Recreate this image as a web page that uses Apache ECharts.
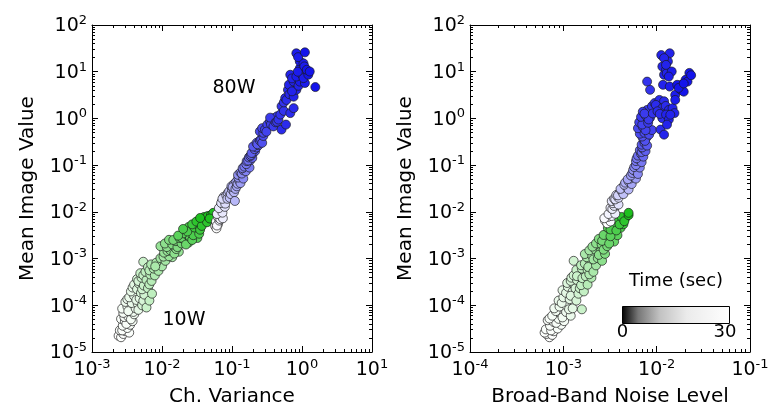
<!DOCTYPE html>
<html><head><meta charset="utf-8">
<script src="https://cdn.jsdelivr.net/npm/echarts@6/dist/echarts.min.js"></script>
<style>html,body{margin:0;padding:0;background:#fff}#c{width:772px;height:412px}</style>
</head><body><div id="c"></div>
<script>
const FONT = 'DejaVu Sans';
// axis ranges (decades)
const leftXRange = [1e-3, 1e1];
const rightXRange = [1e-4, 1e-1];
const yRange = [1e-5, 1e2];
const leftXName = 'Ch. Variance';
const rightXName = 'Broad-Band Noise Level';
const yName = 'Mean Image Value';
const timeRange = [0, 30];
// points: [x, y, time(sec)]
const left10W = [[2.4e-3,2.22e-5,0],[2.6e-3,2.07e-5,1],[2.8e-3,2.43e-5,1],[2.5e-3,2.91e-5,2],[3.0e-3,2.78e-5,2],[3.2e-3,3.26e-5,3],[2.75e-3,3.65e-5,3],[3.4e-3,2.6e-5,2],[3.5e-3,3.82e-5,4],[2.95e-3,4.57e-5,4],[2.6e-3,5.12e-5,3],[3.8e-3,4.57e-5,5],[3.3e-3,5.73e-5,5],[2.8e-3,6.86e-5,5],[4.0e-3,6.41e-5,6],[3.5e-3,8.04e-5,6],[3.2e-3,9.4e-5,6],[4.2e-3,8.6e-5,7],[3.0e-3,1.18e-4,7],[3.7e-3,1.12e-4,8],[4.5e-3,1.08e-4,9],[3.4e-3,1.48e-4,8],[4.0e-3,1.58e-4,9],[4.8e-3,1.41e-4,10],[5.2e-3,1.0e-4,12],[6.0e-3,8.97e-5,14],[3.6e-3,1.98e-4,9],[4.4e-3,2.21e-4,11],[5.0e-3,1.85e-4,12],[5.6e-3,1.69e-4,13],[4.0e-3,2.77e-4,10],[4.7e-3,2.9e-4,12],[5.5e-3,2.65e-4,14],[6.3e-3,2.32e-4,15],[4.4e-3,3.63e-4,12],[5.1e-3,3.89e-4,14],[6.0e-3,3.48e-4,16],[7.1e-3,3.32e-4,17],[4.9e-3,4.86e-4,14],[5.8e-3,5.21e-4,16],[6.8e-3,4.55e-4,17],[7.9e-3,4.36e-4,18],[5.4e-3,8.55e-4,14],[6.3e-3,6.53e-4,16],[7.6e-3,6.1e-4,18],[8.9e-3,5.45e-4,19],[1.0e-2,6.82e-4,19],[8.3e-3,8.18e-4,19],[7.2e-3,1.77e-4,16],[6.6e-3,1.26e-4,15],[9.5e-3,1.02e-3,20],[1.12e-2,8.95e-4,20],[1.4e-2,1.07e-3,20],[1.26e-2,1.12e-3,21],[1.07e-2,1.34e-3,21],[1.74e-2,1.4e-3,21],[9.5e-3,1.84e-3,21],[1.32e-2,1.5e-3,22],[1.5e-2,1.28e-3,22],[1.17e-2,1.76e-3,22],[1.4e-2,2.01e-3,23],[1.66e-2,1.76e-3,23],[1.26e-2,2.52e-3,23],[1.58e-2,2.36e-3,24],[1.9e-2,2.11e-3,24],[1.78e-2,2.76e-3,25],[2.1e-2,2.52e-3,25],[2.4e-2,2.2e-3,25],[2.24e-2,3.3e-3,26],[2.5e-2,2.89e-3,26],[3.2e-2,2.76e-3,26],[2.0e-2,3.46e-3,26],[2.6e-2,3.96e-3,27],[3.0e-2,3.46e-3,27],[2.8e-2,3.16e-3,27],[2.4e-2,4.74e-3,27],[2.9e-2,4.63e-3,28],[3.3e-2,5.19e-3,28],[3.5e-2,4.14e-3,28],[3.8e-2,6.08e-3,29],[4.2e-2,6.81e-3,29],[4.0e-2,7.78e-3,29],[4.5e-2,8.15e-3,30],[5.0e-2,8.51e-3,30],[5.4e-2,9.53e-3,30],
 [2.7e-3,2.9e-5,2],[3.1e-3,4.0e-5,4],[3.6e-3,5.0e-5,5],[2.9e-3,5.6e-5,4],[3.9e-3,7.2e-5,6],[3.3e-3,7.5e-5,6],[2.7e-3,8.5e-5,5],[4.6e-3,8.0e-5,9],[3.2e-3,1.35e-4,7],[4.3e-3,1.3e-4,9],[5.4e-3,1.25e-4,12],[3.8e-3,2.4e-4,9],[5.2e-3,2.2e-4,13],[4.6e-3,3.3e-4,12],[6.6e-3,2.8e-4,16],[5.4e-3,4.4e-4,15],[6.6e-3,5.6e-4,17],[8.0e-3,6.8e-4,19],[7.0e-3,7.5e-4,18],[1.05e-2,1.1e-3,20],[1.2e-2,1.45e-3,21],[1.6e-2,1.6e-3,22],[1.1e-2,2.1e-3,22],[1.45e-2,2.5e-3,24],[1.9e-2,2.8e-3,25],[2.2e-2,2.0e-3,25],[2.7e-2,2.5e-3,26],[1.7e-2,3.1e-3,26],[2.3e-2,3.8e-3,27],[3.4e-2,3.4e-3,27],[2.0e-2,4.3e-3,27],[2.7e-2,5.4e-3,28],[3.1e-2,6.2e-3,29],[3.7e-2,5.0e-3,29],[4.4e-2,6.0e-3,29],[3.5e-2,7.4e-3,30],[4.8e-2,7.2e-3,30]];
const left80W = [[5.75e-2,4.97e-3,0],[6.0e-2,4.44e-3,0],[6.3e-2,5.43e-3,1],[5.9e-2,6.21e-3,1],[6.6e-2,6.5e-3,2],[6.3e-2,7.78e-3,2],[6.9e-2,8.51e-3,3],[6.6e-2,1.02e-2,3],[7.4e-2,7.28e-3,3],[7.2e-2,1.14e-2,4],[6.9e-2,1.34e-2,4],[7.6e-2,1.43e-2,5],[7.2e-2,1.67e-2,5],[7.9e-2,1.28e-2,5],[7.9e-2,1.79e-2,6],[7.6e-2,2.1e-2,6],[8.3e-2,2.24e-2,7],[8.7e-2,2.51e-2,8],[9.3e-2,2.0e-2,9],[9.1e-2,2.75e-2,9],[1.0e-1,3.01e-2,10],[1.07e-1,2.63e-2,10],[1.1e-1,1.71e-2,10],[9.8e-2,3.52e-2,11],[1.07e-1,3.94e-2,11],[1.17e-1,3.52e-2,12],[1.15e-1,4.42e-2,12],[1.26e-1,4.72e-2,13],[1.32e-1,4.13e-2,13],[1.23e-1,5.41e-2,14],[1.38e-1,5.78e-2,14],[1.45e-1,5.16e-2,15],[1.32e-1,6.93e-2,15],[1.45e-1,7.76e-2,16],[1.58e-1,7.41e-2,16],[1.5e-1,9.29e-2,17],[1.66e-1,1.02e-1,17],[1.78e-1,8.87e-2,17],[1.62e-1,1.22e-1,18],[1.82e-1,1.27e-1,18],[1.74e-1,1.46e-1,19],[1.95e-1,1.43e-1,19],[1.82e-1,1.56e-1,19],[2.0e-1,1.82e-1,20],[2.14e-1,2.0e-1,20],[1.9e-1,1.82e-1,20],[2.24e-1,2.39e-1,21],[2.0e-1,2.5e-1,21],[2.4e-1,2.68e-1,21],[2.24e-1,3.0e-1,21],[2.5e-1,3.36e-1,22],[2.6e-1,3.51e-1,22],[2.8e-1,4.21e-1,23],[2.5e-1,5.26e-1,23],[2.8e-1,4.92e-1,23],[2.95e-1,5.77e-1,24],[3.2e-1,7.38e-1,24],[3.5e-1,8.65e-1,24],[3.9e-1,6.75e-1,25],[3.9e-1,1.01,25],[4.4e-1,1.11,25],[3.5e-1,1.04,25],[4.2e-1,8.26e-1,25],[4.6e-1,9.46e-1,26],[4.9e-1,1.21,26],[5.1e-1,1.82,26],[5.5e-1,1.45,26],[5.1e-1,5.77e-1,27],[5.9e-1,7.38e-1,27],[6.8e-1,1.30,27],[7.6e-1,1.66,27],[5.75e-1,2.73,27],[6.0e-1,2.49,27],[6.3e-1,4.09,27],[7.6e-1,2.92,28],[8.3e-1,4.09,28],[6.5e-1,5.25,28],[7.6e-1,6.14,28],[6.8e-1,8.61,28],[9.3e-1,6.14,29],[1.1,5.74,29],[8.3e-1,7.87,29],[1.0,8.61,29],[9.3e-1,11.8,29],[9.3e-1,16.6,29],[1.05,15.1,29],[8.3e-1,24.8,29],[1.23,8.61,30],[1.17,11.0,30],[1.29,10.1,30],[1.55,4.69,30],[1.1,26.0,30],
 [6.1e-2,5.1e-3,1],[6.8e-2,7.0e-3,2],[6.1e-2,9.0e-3,3],[7.3e-2,9.6e-3,4],[6.5e-2,1.2e-2,4],[7.0e-2,1.55e-2,5],[8.0e-2,1.5e-2,6],[7.3e-2,1.9e-2,6],[8.6e-2,1.9e-2,8],[9.6e-2,2.4e-2,9],[1.02e-1,3.4e-2,11],[1.12e-1,3.1e-2,11],[1.2e-1,4.0e-2,12],[1.22e-1,6.2e-2,14],[1.38e-1,6.6e-2,15],[1.42e-1,8.6e-2,16],[1.6e-1,1.05e-1,17],[1.7e-1,1.25e-1,18],[1.88e-1,1.65e-1,19],[2.1e-1,2.2e-1,20],[2.3e-1,2.8e-1,21],[2.7e-1,3.0e-1,22],[2.7e-1,6.2e-1,23],[3.1e-1,5.2e-1,24],[3.6e-1,7.5e-1,24],[4.4e-1,8.5e-1,25],[5.5e-1,2.2,26],[6.6e-1,3.3,27],[7.2e-1,3.8,28],[8.9e-1,5.0,28],[7.2e-1,7.2,28],[1.05,7.3,29],[8.7e-1,10.0,29],[1.08,13.0,29],[8.8e-1,20.5,29]];
const right10W = [[7.1e-4,2.07e-5,0],[6.6e-4,2.43e-5,1],[7.6e-4,2.32e-5,1],[7.9e-4,2.78e-5,2],[6.5e-4,3.05e-5,2],[8.7e-4,3.18e-5,3],[7.2e-4,3.65e-5,3],[6.8e-4,4.78e-5,3],[9.5e-4,3.82e-5,4],[7.9e-4,4.37e-5,4],[8.9e-4,5.12e-5,5],[1.02e-3,4.57e-5,5],[7.6e-4,5.98e-5,5],[9.5e-4,6.41e-5,6],[8.3e-4,7.5e-5,6],[1.07e-3,7.18e-5,7],[9.1e-4,9.4e-5,7],[1.2e-3,5.98e-5,8],[1.07e-3,1.0e-4,8],[8.9e-4,1.26e-4,8],[1.0e-3,1.48e-4,9],[1.26e-3,8.6e-5,10],[1.17e-3,1.35e-4,10],[1.07e-3,1.85e-4,10],[1.12e-3,2.48e-4,10],[1.26e-3,1.98e-4,11],[1.38e-3,1.26e-4,12],[1.32e-3,2.65e-4,12],[1.2e-3,3.32e-4,12],[1.45e-3,1.77e-4,13],[1.4e-3,3.48e-4,13],[1.29e-3,4.36e-4,13],[1.29e-3,8.95e-4,13],[1.58e-3,8.2e-5,14],[1.5e-3,2.32e-4,14],[1.48e-3,4.66e-4,14],[1.38e-3,5.7e-4,14],[1.66e-3,1.98e-4,15],[1.62e-3,3.18e-4,15],[1.74e-3,4.16e-4,16],[1.58e-3,6.1e-4,16],[1.82e-3,2.77e-4,17],[1.82e-3,5.7e-4,17],[1.7e-3,7.82e-4,17],[2.0e-3,3.89e-4,18],[1.95e-3,8.55e-4,18],[2.1e-3,5.21e-4,19],[1.78e-3,1.07e-3,19],[2.24e-3,7.14e-4,20],[2.04e-3,1.15e-3,20],[1.9e-3,1.5e-3,20],[2.34e-3,1.02e-3,21],[2.2e-3,1.57e-3,21],[2.6e-3,8.95e-4,22],[2.5e-3,1.4e-3,22],[2.24e-3,2.11e-3,22],[2.8e-3,1.26e-3,23],[2.57e-3,2.01e-3,23],[2.4e-3,2.64e-3,23],[2.95e-3,1.84e-3,24],[2.75e-3,2.76e-3,24],[3.2e-3,2.52e-3,25],[3.5e-3,2.31e-3,25],[2.95e-3,3.46e-3,25],[3.4e-3,3.7e-3,26],[3.8e-3,3.16e-3,26],[3.0e-3,4.53e-3,26],[3.5e-3,4.97e-3,27],[4.1e-3,4.53e-3,27],[4.4e-3,5.43e-3,28],[3.9e-3,6.21e-3,28],[4.6e-3,7.28e-3,29],[4.2e-3,7.78e-3,29],[5.0e-3,8.51e-3,30],[5.0e-3,9.53e-3,30],
 [7.4e-4,2.9e-5,2],[6.3e-4,2.6e-5,1],[8.4e-4,4.2e-5,4],[7.1e-4,5.2e-5,4],[9.8e-4,5.5e-5,6],[8.0e-4,8.6e-5,6],[1.15e-3,8.2e-5,9],[9.6e-4,1.12e-4,8],[1.2e-3,1.6e-4,11],[9.8e-4,2.1e-4,9],[1.35e-3,2.3e-4,12],[1.1e-3,3.0e-4,11],[1.55e-3,2.7e-4,15],[1.22e-3,3.9e-4,12],[1.6e-3,3.8e-4,15],[1.4e-3,4.2e-4,14],[1.9e-3,4.6e-4,18],[1.55e-3,7.2e-4,16],[1.85e-3,6.6e-4,18],[2.1e-3,9.6e-4,20],[1.7e-3,1.25e-3,19],[2.4e-3,1.2e-3,22],[2.05e-3,1.8e-3,21],[2.7e-3,1.55e-3,23],[2.6e-3,2.4e-3,24],[3.1e-3,2.1e-3,25],[2.7e-3,3.2e-3,25],[3.2e-3,3.0e-3,26],[3.2e-3,4.2e-3,27],[3.7e-3,4.0e-3,27],[4.0e-3,5.4e-3,28],[4.5e-3,6.3e-3,29]];
const right80W = [[2.8e-3,6.5e-3,0],[2.95e-3,5.68e-3,0],[3.2e-3,6.21e-3,1],[3.0e-3,7.78e-3,1],[3.3e-3,8.15e-3,2],[3.2e-3,9.75e-3,2],[3.5e-3,1.07e-2,3],[3.2e-3,1.22e-2,3],[3.6e-3,9.12e-3,3],[3.5e-3,1.34e-2,4],[3.4e-3,1.53e-2,4],[3.7e-3,1.67e-2,5],[3.5e-3,1.92e-2,5],[3.9e-3,1.43e-2,5],[3.9e-3,2.0e-2,6],[3.7e-3,2.3e-2,6],[4.0e-3,2.51e-2,7],[4.2e-3,2.81e-2,8],[4.4e-3,2.4e-2,9],[4.3e-3,3.3e-2,9],[4.7e-3,3.52e-2,10],[5.0e-3,3.01e-2,10],[4.6e-3,4.22e-2,11],[5.0e-3,4.52e-2,11],[5.4e-3,3.94e-2,12],[5.2e-3,5.16e-2,12],[5.6e-3,5.78e-2,13],[6.0e-3,5.16e-2,13],[5.5e-3,6.78e-2,14],[5.9e-3,7.41e-2,14],[6.3e-3,6.47e-2,15],[5.75e-3,9.08e-2,15],[6.2e-3,1.02e-1,16],[6.6e-3,8.87e-2,16],[6.0e-3,1.22e-1,17],[6.5e-3,1.33e-1,17],[6.9e-3,1.16e-1,17],[6.3e-3,1.6e-1,18],[6.8e-3,1.75e-1,18],[7.2e-3,1.52e-1,19],[6.6e-3,2.09e-1,19],[7.1e-3,2.29e-1,20],[7.6e-3,2.0e-1,20],[6.9e-3,2.74e-1,21],[7.4e-3,3.0e-1,21],[7.9e-3,2.62e-1,21],[7.2e-3,3.59e-1,22],[7.8e-3,3.93e-1,22],[6.6e-3,4.71e-1,23],[7.4e-3,4.92e-1,23],[8.3e-3,4.5e-1,23],[6.3e-3,6.17e-1,23],[7.1e-3,6.59e-1,24],[7.9e-3,6.17e-1,24],[8.9e-3,5.64e-1,24],[6.5e-3,8.26e-1,24],[7.2e-3,8.85e-1,24],[8.1e-3,8.07e-1,25],[6.8e-3,1.08,25],[7.6e-3,1.16,25],[8.5e-3,1.04,25],[7.9e-3,1.52,25],[7.1e-3,1.39,25],[8.9e-3,1.82,26],[9.5e-3,2.13,26],[7.9e-3,6.14,26],[8.5e-3,4.09,26],[1.07e-2,2.49,27],[1.2e-2,2.33,27],[9.8e-3,1.95,27],[1.15e-2,1.66,27],[1.02e-2,1.42,27],[1.15e-2,1.01,27],[1.1e-2,5.77e-1,27],[1.35e-2,1.52,28],[1.48e-2,1.66,28],[1.26e-2,1.21,28],[1.55e-2,1.30,28],[1.35e-2,9.46e-1,28],[1.29e-2,7.38e-1,28],[1.2e-2,4.5e-1,28],[1.12e-2,22.7,28],[1.38e-2,24.8,28],[1.15e-2,12.9,28],[1.32e-2,16.6,28],[1.2e-2,8.61,28],[1.17e-2,5.25,28],[1.26e-2,11.0,28],[1.45e-2,10.1,29],[1.35e-2,7.87,29],[1.38e-2,4.8,29],[1.58e-2,3.19,29],[1.58e-2,2.49,29],[2.24e-2,9.42,30],[2.04e-2,6.71,30],[1.86e-2,5.25,30],[1.66e-2,5.25,30],[1.82e-2,4.09,30],[1.95e-2,3.74,30],[2.14e-2,6.14,30],[2.34e-2,8.41,30],
 [2.75e-3,7.3e-3,1],[3.05e-3,9.0e-3,2],[3.35e-3,1.15e-2,3],[3.3e-3,1.7e-2,4],[3.6e-3,1.85e-2,5],[3.85e-3,2.25e-2,7],[4.1e-3,3.1e-2,9],[4.5e-3,3.8e-2,10],[4.9e-3,5.0e-2,12],[5.3e-3,6.0e-2,13],[5.6e-3,7.9e-2,14],[6.0e-3,1.0e-1,16],[6.1e-3,1.4e-1,17],[6.9e-3,1.9e-1,19],[7.0e-3,2.4e-1,20],[7.5e-3,3.3e-1,22],[7.0e-3,4.1e-1,22],[7.6e-3,5.6e-1,24],[7.0e-3,7.4e-1,24],[8.2e-3,9.5e-1,25],[7.4e-3,1.27,25],[9.1e-3,1.28,26],[1.08e-2,1.25,27],[1.25e-2,1.85,27],[1.4e-2,1.2,28],[1.28e-2,9.3,28],[1.2e-2,19.5,28],[1.26e-2,14.0,28],[1.72e-2,4.5,30],[1.95e-2,5.6,30]];
const greenRamp = ['#ffffff','#f6fdf6','#e4f8e4','#c4f0c4','#a4e6a4','#6ad66a','#1ec01e'];
const blueRamp = ['#ffffff','#dcdcfb','#a6a6f6','#6e6ef0','#4242ee','#1414ea'];

function byTime(d){return d.slice().sort((a,b)=>a[2]-b[2]);}
function minorTicks(r){
  const out=[]; const a=Math.round(Math.log10(r[0])), b=Math.round(Math.log10(r[1]));
  for(let e=a;e<b;e++) for(let m=2;m<=9;m++) out.push(m*Math.pow(10,e));
  return out;
}
const rich = {
  b:{fontSize:19,fontFamily:FONT,color:'#000',lineHeight:22,verticalAlign:'bottom'},
  s:{fontSize:13,fontFamily:FONT,color:'#000',lineHeight:14,verticalAlign:'top'}
};
function fmt(v){const e=Math.round(Math.log10(v));return '{b|10}{s|'+(e<0?'-':'')+Math.abs(e)+'}';}
const lineBlack={color:'#000',width:1};
function nameStyle(){return {fontSize:20,fontFamily:FONT,color:'#000'};}
function axesFor(dir, gi, range, name, split){
  const isX = dir==='x';
  const pos0 = isX?'bottom':'left', pos1 = isX?'top':'right';
  const base = {type:'log',logBase:10,gridIndex:gi,min:range[0],max:range[1],splitNumber:split,splitLine:{show:false}};
  const main = Object.assign({},base,{position:pos0,name:name,nameLocation:'middle',
    nameGap:isX?35:54,nameRotate:isX?0:90,nameTextStyle:nameStyle(),
    axisLine:{show:true,onZero:false,lineStyle:lineBlack},
    axisTick:{show:true,inside:true,length:6,lineStyle:lineBlack},
    axisLabel:{show:true,margin:isX?6:5,formatter:fmt,rich:rich}});
  const mainMinor = Object.assign({},base,{position:pos0,axisLine:{show:false},axisLabel:{show:false},
    axisTick:{show:true,inside:true,length:3,lineStyle:lineBlack,customValues:minorTicks(range)}});
  const opp = Object.assign({},base,{position:pos1,axisLine:{show:true,onZero:false,lineStyle:lineBlack},axisLabel:{show:false},
    axisTick:{show:true,inside:true,length:6,lineStyle:lineBlack}});
  const oppMinor = Object.assign({},base,{position:pos1,axisLine:{show:false},axisLabel:{show:false},
    axisTick:{show:true,inside:true,length:3,lineStyle:lineBlack,customValues:minorTicks(range)}});
  return [main,mainMinor,opp,oppMinor];
}
const xAxes = axesFor('x',0,leftXRange,leftXName,4).concat(axesFor('x',1,rightXRange,rightXName,3));
const yAxes = axesFor('y',0,yRange,yName,7).concat(axesFor('y',1,yRange,yName,7));
const pointStyle = {borderColor:'rgba(25,25,25,0.85)',borderWidth:0.8,opacity:1};
function sc(data, xi, yi){return {type:'scatter',xAxisIndex:xi,yAxisIndex:yi,data:byTime(data),symbol:'circle',symbolSize:9,itemStyle:pointStyle,z:3};}
const chart = echarts.init(document.getElementById('c'),null,{renderer:'canvas'});
chart.setOption({
  backgroundColor:'#fff',animation:false,
  grid:[{left:92,top:25,width:280,height:328},{left:470,top:25,width:280,height:328}],
  xAxis:xAxes,yAxis:yAxes,
  visualMap:[
    {type:'continuous',show:false,seriesIndex:[0,2],dimension:2,min:timeRange[0],max:timeRange[1],inRange:{color:greenRamp}},
    {type:'continuous',show:false,seriesIndex:[1,3],dimension:2,min:timeRange[0],max:timeRange[1],inRange:{color:blueRamp}}
  ],
  series:[sc(left10W,0,0),sc(left80W,0,0),sc(right10W,4,4),sc(right80W,4,4)],
  graphic:[
    {type:'text',x:234,y:88,style:{text:'80W',font:'19px "DejaVu Sans"',fill:'#000',align:'center',verticalAlign:'middle'}},
    {type:'text',x:184,y:320,style:{text:'10W',font:'19px "DejaVu Sans"',fill:'#000',align:'center',verticalAlign:'middle'}},
    {type:'text',x:676,y:281,style:{text:'Time (sec)',font:'18px "DejaVu Sans"',fill:'#000',align:'center',verticalAlign:'middle'}},
    {type:'rect',shape:{x:622.5,y:306.5,width:107,height:17},style:{
      fill:new echarts.graphic.LinearGradient(0,0,1,0,[{offset:0,color:'#000'},{offset:0.15,color:'#777'},{offset:0.35,color:'#c2c2c2'},{offset:0.6,color:'#ebebeb'},{offset:1,color:'#fff'}]),
      stroke:'#000',lineWidth:1}},
    {type:'text',x:622.5,y:332,style:{text:'0',font:'18px "DejaVu Sans"',fill:'#000',align:'center',verticalAlign:'middle'}},
    {type:'text',x:725,y:332,style:{text:'30',font:'18px "DejaVu Sans"',fill:'#000',align:'center',verticalAlign:'middle'}}
  ]
});
</script></body></html>
